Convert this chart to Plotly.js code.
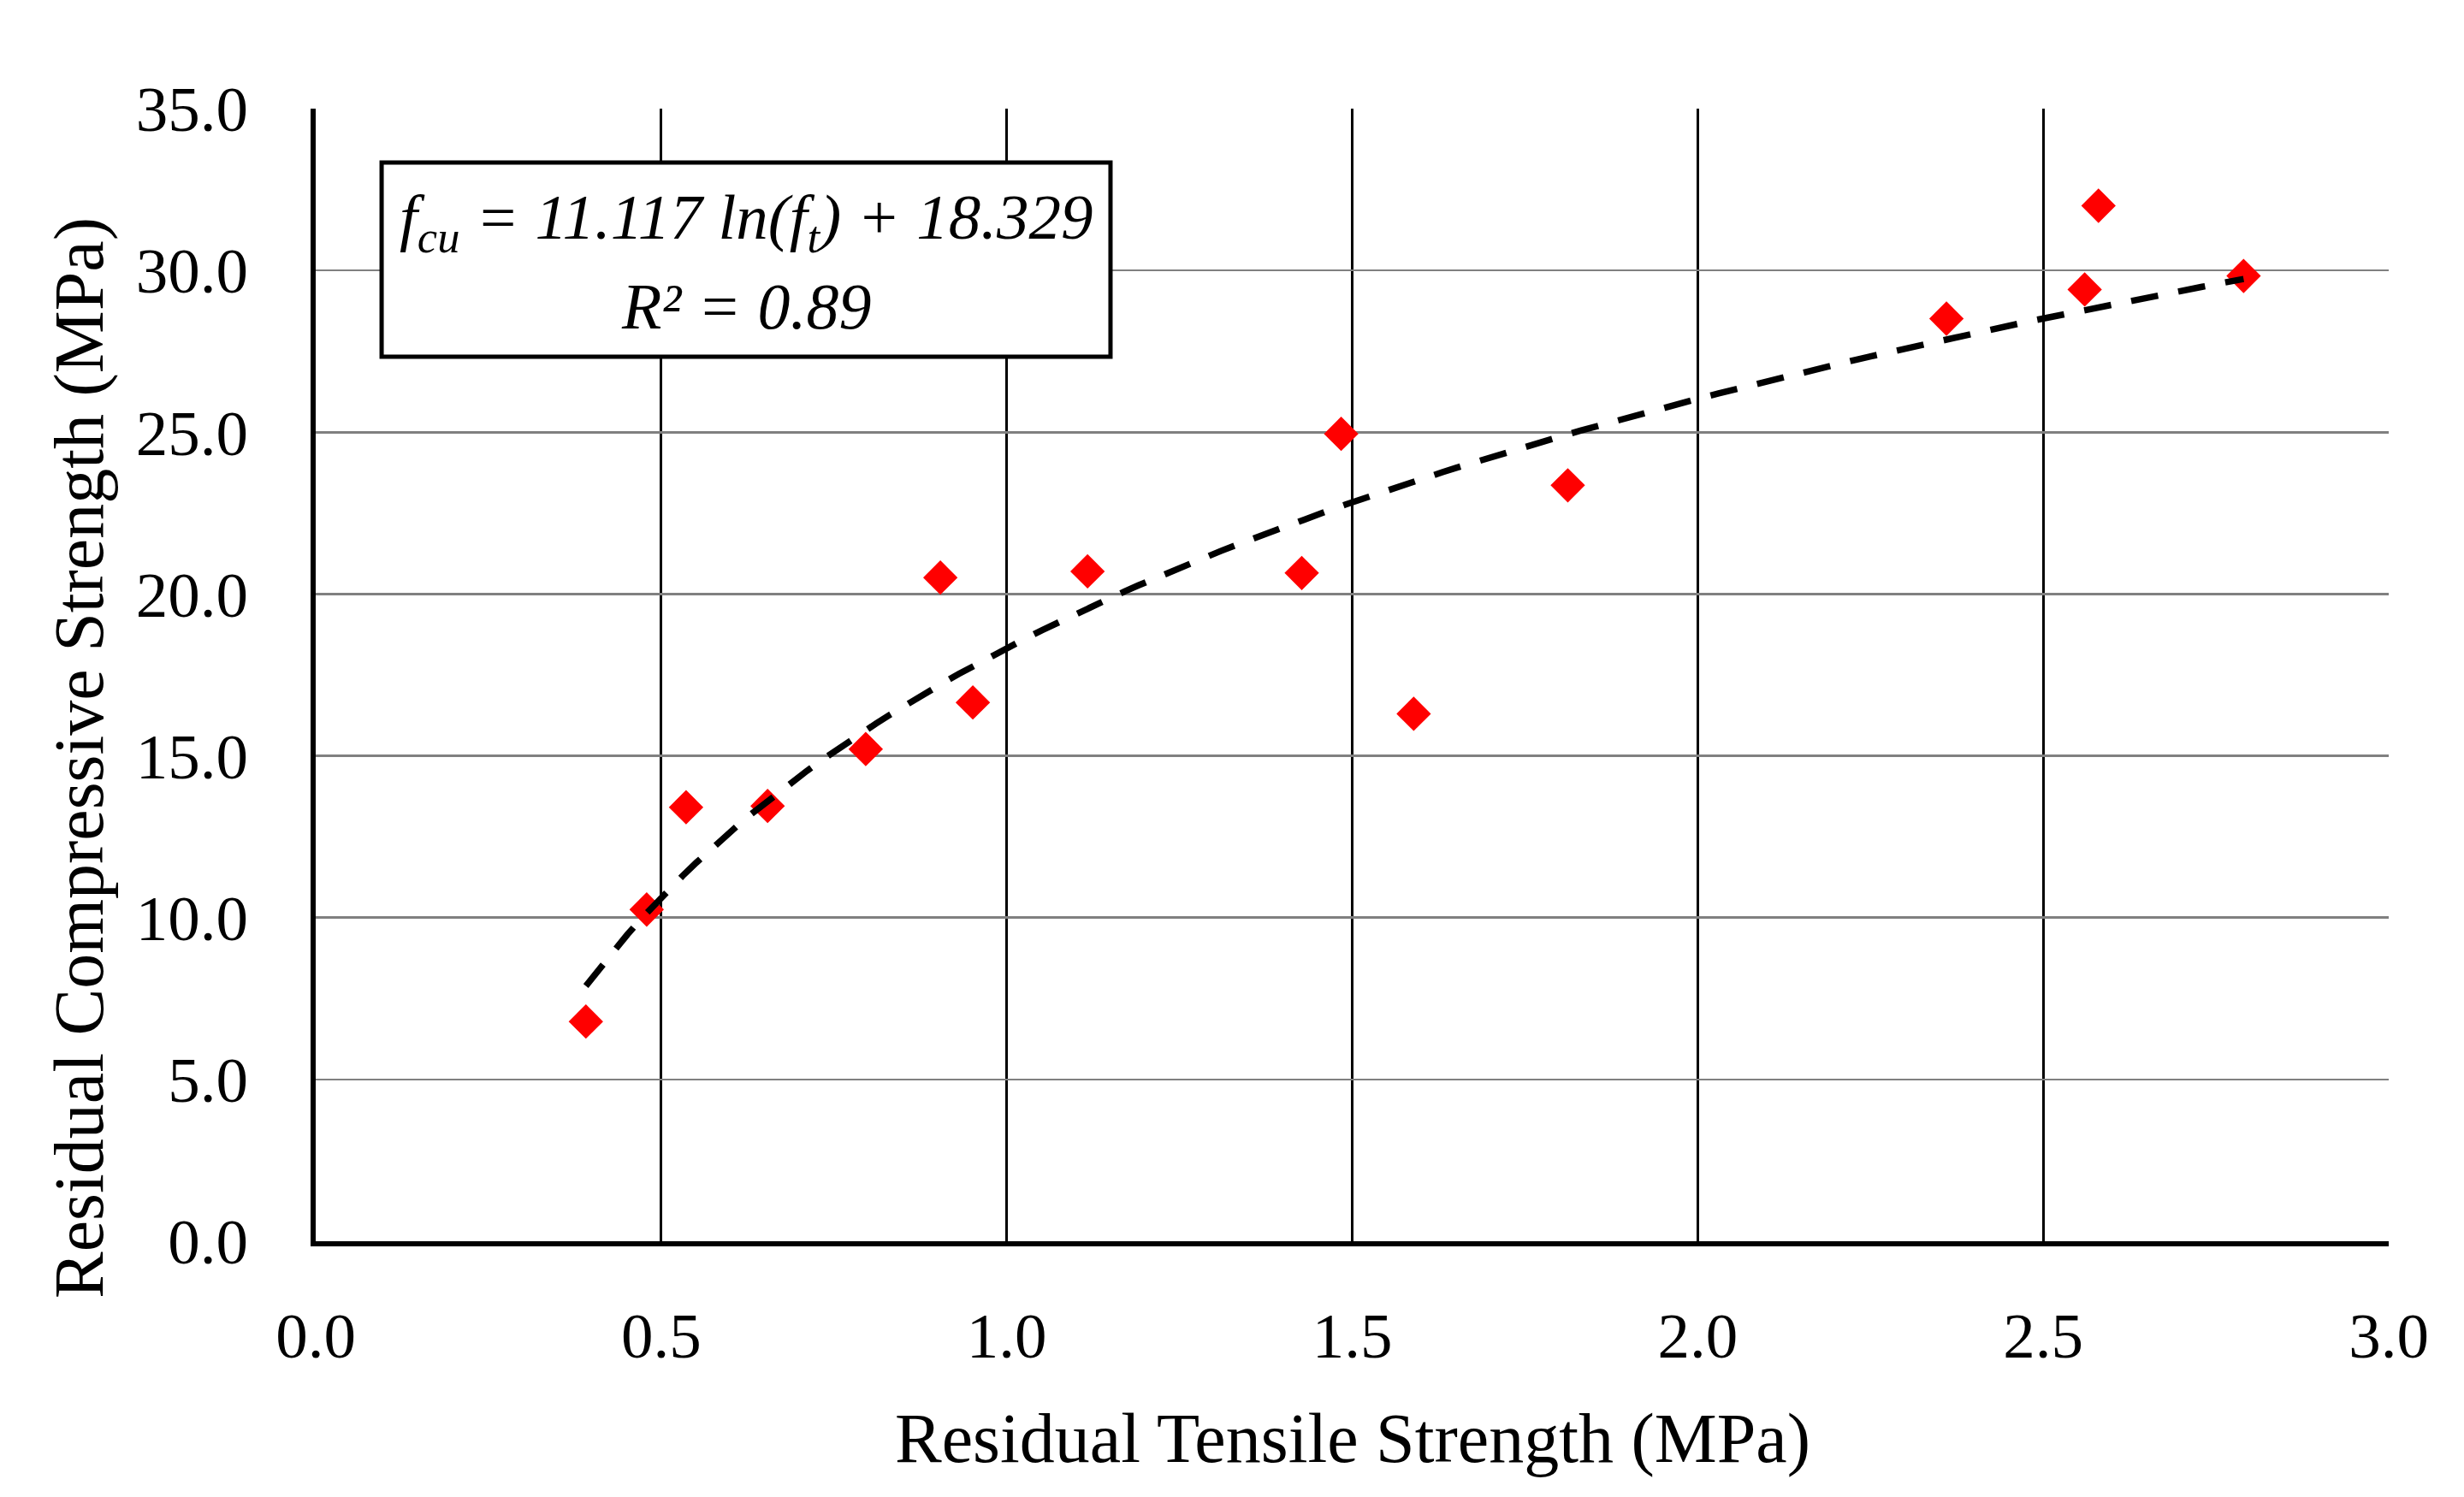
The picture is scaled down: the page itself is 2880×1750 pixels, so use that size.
<!DOCTYPE html>
<html>
<head>
<meta charset="utf-8">
<script src="https://cdn.plot.ly/plotly-3.0.1.min.js"></script>
<style>
  html, body { margin: 0; padding: 0; background: #ffffff; }
  #chart { width: 2880px; height: 1750px; }
</style>
</head>
<body>
<div id="chart"></div>
<script>
// Residual tensile vs. residual compressive strength (MPa)
const tensileStrength = [0.391, 0.479, 0.536, 0.654, 0.796, 0.904, 0.951, 1.117, 1.427, 1.484, 1.589, 1.812, 2.360, 2.560, 2.580, 2.790];
const compressiveStrength = [6.79, 10.25, 13.41, 13.45, 15.21, 20.51, 16.65, 20.70, 20.65, 24.95, 16.30, 23.36, 28.51, 29.41, 32.00, 29.83];

// Logarithmic fit reported on the chart: fcu = a ln(ft) + b
const fitA = 11.117;
const fitB = 18.329;
const fitR2 = 0.89;

const xTickVals = [0, 0.5, 1.0, 1.5, 2.0, 2.5, 3.0];
const yTickVals = [0, 5, 10, 15, 20, 25, 30, 35];

// Sample the fitted curve across the span of the measurements
const xMin = Math.min(...tensileStrength);
const xMax = Math.max(...tensileStrength);
const fitX = [];
const fitY = [];
const steps = 120;
for (let i = 0; i <= steps; i++) {
  const x = xMin + (xMax - xMin) * i / steps;
  fitX.push(x);
  fitY.push(fitA * Math.log(x) + fitB);
}

const FONT = "'Liberation Serif', 'Times New Roman', serif";

const traces = [
  {
    type: 'scatter',
    mode: 'markers',
    x: tensileStrength,
    y: compressiveStrength,
    marker: { symbol: 'diamond', size: 31, color: '#ff0000', line: { width: 0 } },
    hoverinfo: 'x+y'
  },
  {
    type: 'scatter',
    mode: 'lines',
    x: fitX,
    y: fitY,
    line: { color: '#000000', width: 7.5, dash: '32px,24px' },
    hoverinfo: 'skip'
  }
];

// Equation box geometry in paper units of the plot area
const box = { x0: 0.0318, x1: 0.3834, y0: 0.781, y1: 0.9524 };
const boxCx = (box.x0 + box.x1) / 2;

const layout = {
  width: 2880,
  height: 1750,
  paper_bgcolor: '#ffffff',
  plot_bgcolor: '#ffffff',
  showlegend: false,
  margin: { l: 369, r: 88, t: 127, b: 299, pad: 0 },
  font: { family: FONT, size: 74, color: '#000000' },
  xaxis: {
    range: [0, 3],
    tickmode: 'array',
    tickvals: xTickVals,
    tickformat: '.1f',
    ticks: 'outside',
    ticklen: 40,
    tickcolor: 'rgba(0,0,0,0)',
    tickfont: { family: FONT, size: 75, color: '#000000' },
    showgrid: true,
    gridcolor: '#000000',
    gridwidth: 3,
    zeroline: false,
    showline: true,
    linecolor: '#000000',
    linewidth: 6,
    mirror: false,
    fixedrange: true
  },
  yaxis: {
    range: [0, 35],
    tickmode: 'array',
    tickvals: yTickVals,
    tickformat: '.1f',
    ticks: 'outside',
    ticklen: 58,
    tickcolor: 'rgba(0,0,0,0)',
    tickfont: { family: FONT, size: 75, color: '#000000' },
    showgrid: true,
    gridcolor: '#808080',
    gridwidth: 2.5,
    zeroline: false,
    showline: true,
    linecolor: '#000000',
    linewidth: 6,
    mirror: false,
    fixedrange: true
  },
  shapes: [
    {
      type: 'rect',
      xref: 'paper', yref: 'paper',
      x0: box.x0, x1: box.x1, y0: box.y0, y1: box.y1,
      line: { color: '#000000', width: 5 },
      fillcolor: '#ffffff',
      layer: 'above'
    }
  ],
  annotations: [
    {
      xref: 'paper', yref: 'paper',
      x: boxCx, y: 0.900,
      xanchor: 'center', yanchor: 'middle',
      showarrow: false,
      text: '<i>f<sub>cu</sub> = ' + fitA.toFixed(3) + ' ln(f<sub>t</sub>) + ' + fitB.toFixed(3) + '</i>',
      font: { family: FONT, size: 75, color: '#000000' }
    },
    {
      xref: 'paper', yref: 'paper',
      x: boxCx, y: 0.8255,
      xanchor: 'center', yanchor: 'middle',
      showarrow: false,
      text: '<i>R² = ' + fitR2.toFixed(2) + '</i>',
      font: { family: FONT, size: 76, color: '#000000' }
    },
    {
      xref: 'paper', yref: 'paper',
      x: 0.5, y: -0.174,
      xanchor: 'center', yanchor: 'middle',
      showarrow: false,
      text: 'Residual Tensile Strength (MPa)',
      font: { family: FONT, size: 82, color: '#000000' }
    },
    {
      // y-axis title, placed left of the tick labels
      xref: 'paper', yref: 'paper',
      x: (92 - 369) / 2423, y: (1451 - 886) / 1324,
      xanchor: 'center', yanchor: 'middle',
      showarrow: false,
      textangle: -90,
      text: 'Residual Compressive Strength (MPa)',
      font: { family: FONT, size: 82, color: '#000000' }
    }
  ]
};

Plotly.newPlot('chart', traces, layout, { displayModeBar: false, staticPlot: true });
</script>
</body>
</html>
